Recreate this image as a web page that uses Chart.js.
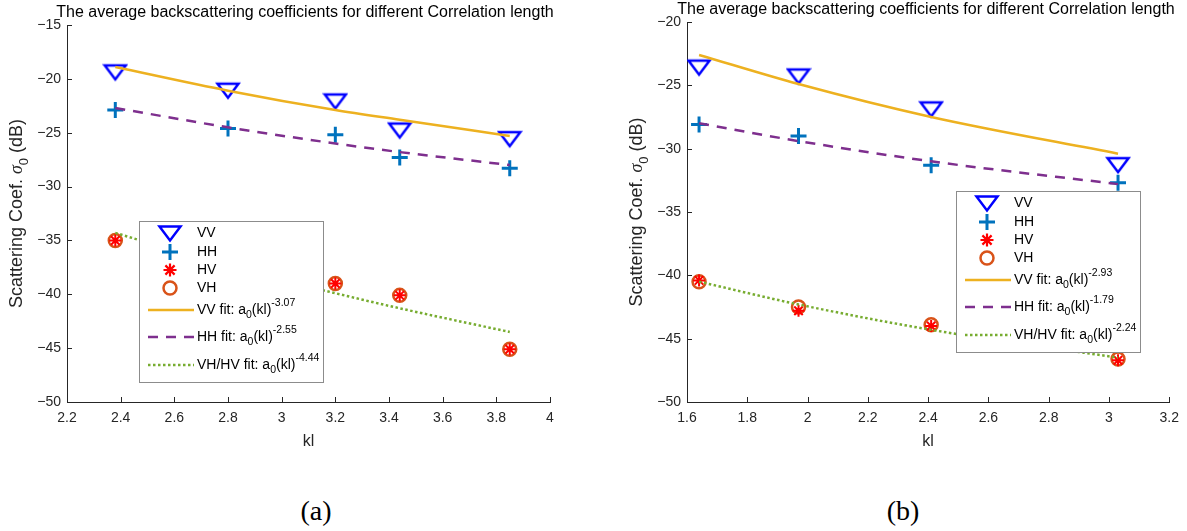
<!DOCTYPE html>
<html>
<head>
<meta charset="utf-8">
<script src="https://cdn.jsdelivr.net/npm/chart.js@4.4.1/dist/chart.umd.min.js"></script>
<style>
body{margin:0;background:#fff;width:1187px;height:531px;overflow:hidden;position:relative;font-family:"Liberation Sans",Arial,sans-serif}
canvas{position:absolute;top:0}
#ca{left:0}
#cb{left:593px}
.cap{position:absolute;top:495px;width:60px;text-align:center;font-family:"Liberation Serif","Times New Roman",serif;font-size:28px;color:#000}
</style>
</head>
<body>
<canvas id="ca" width="593" height="470"></canvas>
<canvas id="cb" width="594" height="470"></canvas>
<div class="cap" style="left:286px">(a)</div>
<div class="cap" style="left:873px">(b)</div>
<script>
// (a) values
const klA = [2.38, 2.8, 3.2, 3.44, 3.85];
const vvA = [-19.4, -21.1, -22.1, -24.8, -25.6];
const hhA = [-22.9, -24.6, -25.2, -27.3, -28.3];
const hvA = [-35.0, -37.2, -39.0, -40.1, -45.1];
const vhA = [-35.0, -37.2, -39.0, -40.1, -45.1];
const vvFitA = [-18.9, -21.1, -22.9, -23.8, -25.3];
const hhFitA = [-22.7, -24.5, -26.0, -26.8, -28.0];
const xFitA = [-34.3, -37.4, -39.9, -41.3, -43.5];
const expA = ['-3.07', '-2.55', '-4.44'];
const xTicksA = [2.2, 2.4, 2.6, 2.8, 3, 3.2, 3.4, 3.6, 3.8, 4];
const yTicksA = [-50, -45, -40, -35, -30, -25, -20, -15];

// (b)
const klB = [1.64, 1.97, 2.41, 3.03];
const vvB = [-23.6, -24.3, -26.9, -31.3];
const hhB = [-28.1, -29.0, -31.3, -32.7];
const hvB = [-40.4, -42.8, -44.0, -46.7];
const vhB = [-40.5, -42.5, -43.9, -46.6];
const vvFitB = [-22.6, -24.9, -27.5, -30.4];
const hhFitB = [-28.0, -29.4, -31.0, -32.8];
const xFitB = [-40.5, -42.3, -44.3, -46.5];
const expB = ['-2.93', '-1.79', '-2.24'];
const xTicksB = [1.6, 1.8, 2, 2.2, 2.4, 2.6, 2.8, 3, 3.2];
const yTicksB = [-50, -45, -40, -35, -30, -25, -20];

const TITLE = 'The average backscattering coefficients for different Correlation length';
const FONT = '"Liberation Sans", Arial, sans-serif';
const INK = '#262626';
const C = {vv: '#0000FF', hh: '#0072BD', hv: '#FF0000', vh: '#D95319',
           vvf: '#EDB120', hhf: '#7E2F8E', xf: '#77AC30'};

const pts = (xs, ys) => xs.map((x, i) => ({x: x, y: ys[i]}));

// MATLAB-like flat down triangle, wider than equilateral
function triPath(ctx, x, y) {
  ctx.moveTo(x - 10.5, y - 6.5); ctx.lineTo(x + 10.5, y - 6.5); ctx.lineTo(x, y + 7.5); ctx.closePath();
}
const triImg = document.createElement('canvas');
triImg.width = 26; triImg.height = 20;
(function () {
  const g = triImg.getContext('2d');
  g.strokeStyle = C.vv; g.lineWidth = 2.5; g.lineJoin = 'miter';
  g.beginPath(); triPath(g, 13, 9.5); g.stroke();
})();

function markerSet(kl, vv, hh, hv, vh) {
  return [
    {data: pts(kl, vv), showLine: false, pointStyle: triImg, pointRadius: 10,
     borderColor: C.vv, order: 2},
    {data: pts(kl, hh), showLine: false, pointStyle: 'cross', pointRadius: 8,
     borderColor: C.hh, borderWidth: 3, order: 2},
    {data: pts(kl, vh), showLine: false, pointStyle: 'circle', pointRadius: 6.5,
     borderColor: C.vh, borderWidth: 2.5, backgroundColor: 'transparent', order: 3},
    {data: pts(kl, hv), showLine: false, pointStyle: 'star', pointRadius: 6,
     borderColor: C.hv, borderWidth: 2, order: 2}
  ];
}
function fitSet(kl, vf, hf, xf) {
  const base = {showLine: true, pointRadius: 0, borderWidth: 2.5, cubicInterpolationMode: 'monotone', order: 1};
  return [
    Object.assign({data: pts(kl, vf), borderColor: C.vvf}, base),
    Object.assign({data: pts(kl, hf), borderColor: C.hhf, borderDash: [10, 8]}, base),
    Object.assign({data: pts(kl, xf), borderColor: C.xf, borderDash: [2.5, 2.5]}, base)
  ];
}

// own marker drawing for the legend
function mark(ctx, kind, x, y) {
  ctx.save();
  ctx.beginPath();
  if (kind === 'vv') {
    ctx.strokeStyle = C.vv; ctx.lineWidth = 2.5;
    triPath(ctx, x, y);
  } else if (kind === 'hh') {
    ctx.strokeStyle = C.hh; ctx.lineWidth = 3;
    ctx.moveTo(x - 8, y); ctx.lineTo(x + 8, y); ctx.moveTo(x, y - 8); ctx.lineTo(x, y + 8);
  } else if (kind === 'hv') {
    ctx.strokeStyle = C.hv; ctx.lineWidth = 2.2;
    ctx.moveTo(x - 6.5, y); ctx.lineTo(x + 6.5, y); ctx.moveTo(x, y - 6.5); ctx.lineTo(x, y + 6.5);
    ctx.moveTo(x - 4.6, y - 4.6); ctx.lineTo(x + 4.6, y + 4.6); ctx.moveTo(x - 4.6, y + 4.6); ctx.lineTo(x + 4.6, y - 4.6);
  } else {
    ctx.strokeStyle = C.vh; ctx.lineWidth = 2.5;
    ctx.arc(x, y, 6.5, 0, Math.PI * 2);
  }
  ctx.stroke();
  ctx.restore();
}

function fitLabel(ctx, name, exp, x, y) {
  let cx = x;
  const part = (s, size, dy) => {
    ctx.font = size + 'px ' + FONT;
    ctx.fillText(s, cx, y + dy);
    cx += ctx.measureText(s).width;
  };
  part(name + ' fit: a', 14, 0);
  part('0', 10.5, 5);
  part('(kl)', 14, 0);
  part(exp, 10.5, -7);
}

function makeChart(id, cfg) {
  const decorations = {
    id: 'deco',
    afterDatasetsDraw(chart) {
      const ctx = chart.ctx, a = chart.chartArea;
      const xs = chart.scales.x, ys = chart.scales.y;
      ctx.save();
      // inward ticks
      ctx.strokeStyle = INK; ctx.lineWidth = 1;
      xs.ticks.forEach(t => {
        const p = Math.round(xs.getPixelForValue(t.value)) + 0.5;
        ctx.beginPath(); ctx.moveTo(p, a.bottom); ctx.lineTo(p, a.bottom - 5); ctx.stroke();
      });
      ys.ticks.forEach(t => {
        const p = Math.round(ys.getPixelForValue(t.value)) + 0.5;
        ctx.beginPath(); ctx.moveTo(a.left, p); ctx.lineTo(a.left + 5, p); ctx.stroke();
      });
      // legend box
      const L = cfg.legend;
      ctx.fillStyle = '#fff'; ctx.strokeStyle = '#8c8c8c'; ctx.lineWidth = 1;
      ctx.fillRect(L.x, L.y, 184, 161);
      ctx.strokeRect(L.x + 0.5, L.y + 0.5, 184, 161);
      const rows = [12, 31, 49, 67, 89, 116, 144];
      ['vv', 'hh', 'hv', 'vh'].forEach((k, i) => {
        mark(ctx, k, L.x + 31, L.y + rows[i]);
        ctx.fillStyle = '#000'; ctx.font = '14px ' + FONT; ctx.textBaseline = 'middle';
        ctx.fillText(k.toUpperCase(), L.x + 58, L.y + rows[i]);
      });
      const fits = [['VV', C.vvf, []], ['HH', C.hhf, [10, 8]], ['VH/HV', C.xf, [2.5, 2.5]]];
      fits.forEach((f, i) => {
        const yy = L.y + rows[4 + i];
        ctx.strokeStyle = f[1]; ctx.lineWidth = 2.5; ctx.setLineDash(f[2]);
        ctx.beginPath(); ctx.moveTo(L.x + 9, yy); ctx.lineTo(L.x + 55, yy); ctx.stroke();
        ctx.setLineDash([]);
        ctx.fillStyle = '#000'; ctx.textBaseline = 'middle';
        fitLabel(ctx, f[0], cfg.exp[i], L.x + 58, yy);
      });
      // title
      ctx.fillStyle = '#000'; ctx.font = '16px ' + FONT; ctx.textAlign = 'center'; ctx.textBaseline = 'middle';
      ctx.fillText(TITLE, cfg.titleX, cfg.titleY);
      // x title
      ctx.fillStyle = INK; ctx.font = '16px ' + FONT;
      ctx.fillText('kl', (a.left + a.right) / 2, 442);
      // y title with sigma subscript
      ctx.translate(a.left - 50, (a.top + a.bottom) / 2);
      ctx.rotate(-Math.PI / 2);
      const segs = [['Scattering Coef. ', '18px ' + FONT, 0], ['\u03C3', 'italic 18px "Liberation Serif", serif', 0],
                    ['0', '13px ' + FONT, 7], [' (dB)', '18px ' + FONT, 0]];
      let w = 0;
      segs.forEach(s => { ctx.font = s[1]; w += ctx.measureText(s[0]).width; });
      let cx = -w / 2;
      ctx.textAlign = 'left';
      segs.forEach(s => { ctx.font = s[1]; ctx.fillText(s[0], cx, s[2]); cx += ctx.measureText(s[0]).width; });
      ctx.restore();
    }
  };
  const tickFont = {family: FONT, size: 14};
  const fmt = v => String(+v.toFixed(1)).replace('-', '\u2212');
  return new Chart(document.getElementById(id), {
    type: 'scatter',
    data: {datasets: cfg.datasets},
    options: {
      responsive: false,
      animation: false,
      layout: {padding: {top: cfg.top, right: cfg.right, left: 0, bottom: 0}},
      plugins: {legend: {display: false}, tooltip: {enabled: false}, title: {display: false}},
      scales: {
        x: {
          type: 'linear', min: cfg.xTicks[0], max: cfg.xTicks[cfg.xTicks.length - 1],
          afterBuildTicks: s => { s.ticks = cfg.xTicks.map(v => ({value: v})); },
          afterFit: s => { s.height = 68; },
          grid: {display: false, drawTicks: false},
          border: {display: true, color: INK, width: 1},
          ticks: {color: INK, font: tickFont, padding: 8, autoSkip: false, maxRotation: 0, callback: fmt}
        },
        y: {
          type: 'linear', min: cfg.yTicks[0], max: cfg.yTicks[cfg.yTicks.length - 1],
          afterBuildTicks: s => { s.ticks = cfg.yTicks.map(v => ({value: v})); },
          afterFit: s => { s.width = cfg.left; },
          grid: {display: false, drawTicks: false},
          border: {display: true, color: INK, width: 1},
          ticks: {color: INK, font: tickFont, padding: 6, autoSkip: false, callback: fmt}
        }
      }
    },
    plugins: [decorations]
  });
}

makeChart('ca', {
  datasets: fitSet(klA, vvFitA, hhFitA, xFitA).concat(markerSet(klA, vvA, hhA, hvA, vhA)),
  xTicks: xTicksA, yTicks: yTicksA, exp: expA,
  left: 67, right: 43, top: 25,
  legend: {x: 139, y: 221}, titleX: 305, titleY: 13
});
makeChart('cb', {
  datasets: fitSet(klB, vvFitB, hhFitB, xFitB).concat(markerSet(klB, vvB, hhB, hvB, vhB)),
  xTicks: xTicksB, yTicks: yTicksB, exp: expB,
  left: 94, right: 15, top: 22,
  legend: {x: 363, y: 191}, titleX: 333, titleY: 10
});
</script>
</body>
</html>
